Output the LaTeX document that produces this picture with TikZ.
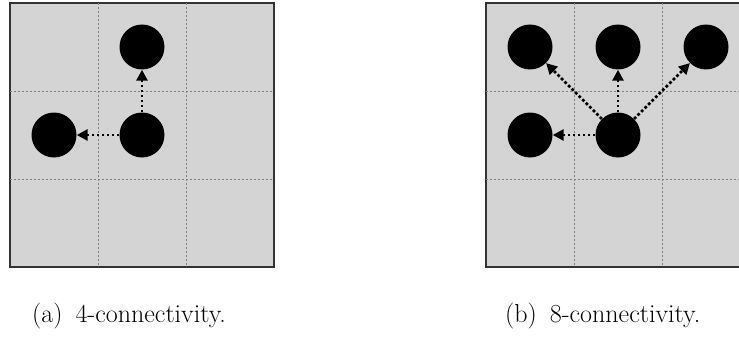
\documentclass[tikz,border=0pt]{standalone}
\usepackage{fontspec}
\usetikzlibrary{arrows.meta}
\begin{document}
\begin{tikzpicture}[x=1pt,y=-1pt,
  board/.style={fill=black!17, draw=black!80, line width=1.2pt},
  gridline/.style={draw=black!50, line width=0.8pt, dash pattern=on 2pt off 2pt},
  pixel/.style={circle, fill=black, minimum size=45pt, inner sep=0pt},
  link/.style={line width=2.8pt, dash pattern=on 2.8pt off 2.2pt,
    -{Triangle[length=11pt,width=11pt]}},
  subcap/.style={font=\fontsize{26}{30}\selectfont, anchor=base west, inner sep=0pt}]
\useasboundingbox (0,0) rectangle (739,337);

% (a) 4-connectivity
\draw[board] (10,3) rectangle (274,267);
\draw[gridline] (98,3) -- (98,267);
\draw[gridline] (186,3) -- (186,267);
\draw[gridline] (10,91) -- (274,91);
\draw[gridline] (10,179) -- (274,179);
\node[pixel] (a0) at (142,135) {};
\node[pixel] (aN) at (142,47) {};
\node[pixel] (aW) at (54,135) {};
\draw[link] (a0) -- (aN);
\draw[link] (a0) -- (aW);
\node[subcap] (capa) at (32,322) {(a)\enspace 4-connectivity.};

% (b) 8-connectivity
\draw[board] (486,3) rectangle (750,267);
\draw[gridline] (574,3) -- (574,267);
\draw[gridline] (662,3) -- (662,267);
\draw[gridline] (486,91) -- (750,91);
\draw[gridline] (486,179) -- (750,179);
\node[pixel] (b0) at (618,135) {};
\node[pixel] (bNW) at (530,47) {};
\node[pixel] (bN) at (618,47) {};
\node[pixel] (bNE) at (706,47) {};
\node[pixel] (bW) at (530,135) {};
\draw[link] (b0) -- (bNW);
\draw[link] (b0) -- (bN);
\draw[link] (b0) -- (bNE);
\draw[link] (b0) -- (bW);
\node[subcap] (capb) at (505,322) {(b)\enspace 8-connectivity.};
\end{tikzpicture}
\end{document}
